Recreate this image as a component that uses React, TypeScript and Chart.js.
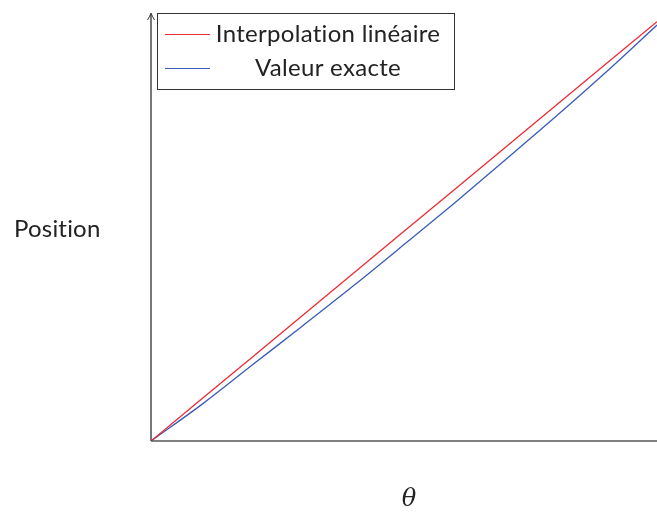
import React, { useEffect, useRef } from "react";
import { Chart, registerables } from "chart.js";

Chart.register(...registerables);

const thetaValues = [0, 0.1, 0.2, 0.3, 0.4, 0.5, 0.6, 0.7, 0.8, 0.9, 1.0];
const linearValues = [0, 0.0982, 0.1964, 0.2946, 0.3928, 0.491, 0.5892, 0.6874, 0.7856, 0.8838, 0.982];
const exactValues = [0, 0.0852, 0.1778, 0.27, 0.3635, 0.46, 0.5576, 0.6581, 0.7597, 0.8646, 0.9742];
const seriesLabels = ["Interpolation linéaire", "Valeur exacte"];
const seriesColors = ["#ee2a35", "#3a5cb8"];
const yAxisTitle = "Position";
const xAxisTitle = "θ";

const decorPlugin = {
  id: "decor",
  afterDraw(chart: any) {
    const { ctx, chartArea } = chart;
    const { left, right, top, bottom } = chartArea;
    ctx.save();
    // axes
    ctx.strokeStyle = "#555";
    ctx.lineWidth = 1.6;
    ctx.beginPath();
    ctx.moveTo(left, bottom);
    ctx.lineTo(left, top);
    ctx.moveTo(left, bottom);
    ctx.lineTo(right, bottom);
    ctx.stroke();
    ctx.lineWidth = 1;
    ctx.strokeStyle = "#333";
    ctx.beginPath();
    ctx.moveTo(left - 3.5, top + 6);
    ctx.quadraticCurveTo(left - 1, top + 2, left, top - 1);
    ctx.quadraticCurveTo(left + 1, top + 2, left + 3.5, top + 6);
    ctx.stroke();

    // legend
    const bx = 157.5, by = 13.5, bw = 297, bh = 76;
    ctx.fillStyle = "#fff";
    ctx.fillRect(bx, by, bw, bh);
    ctx.strokeStyle = "#333";
    ctx.lineWidth = 1;
    ctx.strokeRect(bx, by, bw, bh);
    const rows = [34, 68];
    ctx.font = "24px Lato";
    (ctx as any).letterSpacing = "0.3px";
    ctx.textAlign = "center";
    ctx.textBaseline = "middle";
    chart.data.datasets.forEach((ds: any, i: number) => {
      ctx.strokeStyle = ds.borderColor;
      ctx.lineWidth = 1.2;
      ctx.beginPath();
      ctx.moveTo(165, rows[i] + 0.5);
      ctx.lineTo(210, rows[i] + 0.5);
      ctx.stroke();
      ctx.fillStyle = "#222";
      ctx.fillText(ds.label, 328, rows[i]);
    });

    // titles
    ctx.textAlign = "left";
    ctx.font = "24px Lato";
    (ctx as any).letterSpacing = "0.2px";
    ctx.fillStyle = "#222";
    ctx.fillText(yAxisTitle, 14, 229);
    (ctx as any).letterSpacing = "0px";
    ctx.textAlign = "center";
    ctx.font = "italic 24px 'DejaVu Serif'";
    ctx.fillText(xAxisTitle, 409, 500);
    ctx.restore();
  },
};

export default function App() {
  const ref = useRef<HTMLCanvasElement | null>(null);
  useEffect(() => {
    if (!ref.current) return;
    const chart = new Chart(ref.current, {
      type: "line",
      data: {
        datasets: [
          {
            label: seriesLabels[0],
            data: thetaValues.map((x, i) => ({ x, y: linearValues[i] })),
            borderColor: seriesColors[0],
            borderWidth: 1.3,
            pointRadius: 0,
            fill: false,
          },
          {
            label: seriesLabels[1],
            data: thetaValues.map((x, i) => ({ x, y: exactValues[i] })),
            borderColor: seriesColors[1],
            borderWidth: 1.3,
            pointRadius: 0,
            cubicInterpolationMode: "monotone",
            fill: false,
          },
        ],
      },
      options: {
        animation: false,
        responsive: false,
        layout: { padding: { left: 151, right: 0, top: 14, bottom: 72 } },
        scales: {
          x: { type: "linear", min: 0, max: 1, display: false },
          y: { type: "linear", min: 0, max: 1, display: false },
        },
        plugins: { legend: { display: false }, tooltip: { enabled: false } },
      },
      plugins: [decorPlugin],
    });
    return () => chart.destroy();
  }, []);
  return (
    <canvas
      ref={ref}
      width={657}
      height={513}
      style={{ position: "fixed", left: 0, top: 0, width: 657, height: 513, background: "#fff" }}
    />
  );
}
